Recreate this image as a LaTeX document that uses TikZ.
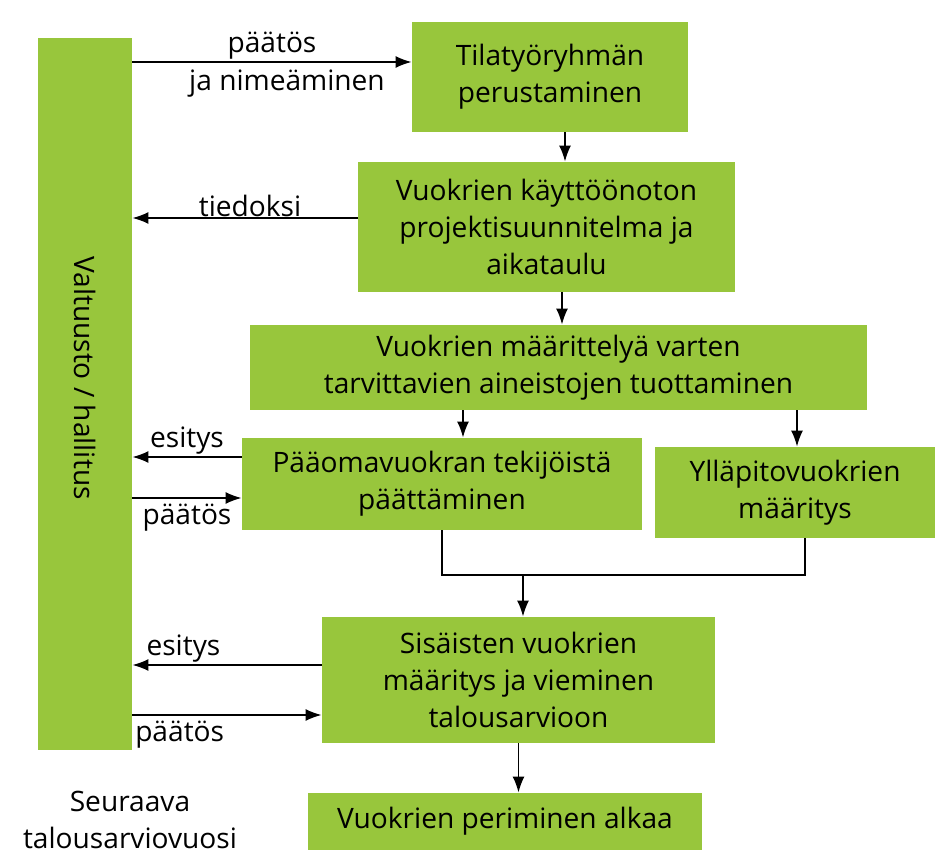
\documentclass[tikz,border=0pt]{standalone}
\usepackage{fontspec}
\setmainfont{Open Sans}
\usetikzlibrary{arrows.meta}
\definecolor{boxgreen}{RGB}{152,198,60}

\begin{document}
\begin{tikzpicture}[
  box/.style={fill=boxgreen, align=center, inner sep=0pt, font=\fontsize{16}{21}\selectfont},
  arr/.style={line width=1.1pt, -{Latex[length=3.2mm,width=2.4mm]}},
  lbl/.style={font=\fontsize{16}{19}\selectfont, inner sep=1pt}
]

% Canvas
\useasboundingbox (0,0) rectangle (18.76,-17.1);

% Boxes
\node[box, minimum width=1.88cm, minimum height=14.24cm] (bar) at (1.7,-7.88) {};
\node[box, fill=none, rotate=-90] (bartext) at (1.7,-7.56) {Valtuusto / hallitus};
\node[box, minimum width=5.52cm, minimum height=2.2cm] (tila) at (11.0,-1.54) {Tilatyöryhmän\\perustaminen};
\node[box, minimum width=7.54cm, minimum height=2.6cm] (proj) at (10.93,-4.54) {Vuokrien käyttöönoton\\projektisuunnitelma ja\\aikataulu};
\node[box, minimum width=12.34cm, minimum height=1.7cm] (maar) at (11.17,-7.35) {Vuokrien määrittelyä varten\\tarvittavien aineistojen tuottaminen};
\node[box, minimum width=8.0cm, minimum height=1.84cm] (paa) at (8.84,-9.68) {Pääomavuokran tekijöistä\\päättäminen};
\node[box, minimum width=5.6cm, minimum height=1.82cm] (yll) at (15.9,-9.85) {Ylläpitovuokrien\\määritys};
\node[box, minimum width=7.86cm, minimum height=2.52cm] (sis) at (10.37,-13.6) {Sisäisten vuokrien\\määritys ja vieminen\\talousarvioon};
\node[box, minimum width=7.88cm, minimum height=1.14cm] (per) at (10.1,-16.43) {Vuokrien periminen alkaa};
\node[box, fill=none] (seur) at (2.6,-16.4) {Seuraava\\talousarviovuosi};

% Define points
\coordinate (p1) at (0,-1.24);
\coordinate (p2) at (0,-4.36);
\coordinate (p3) at (0,-9.14);
\coordinate (p4) at (0,-9.96);
\coordinate (p5) at (0,-13.3);
\coordinate (p6) at (0,-14.3);
\coordinate (join) at (10.46,-11.5);

% Arrows to and from the bar
\draw[arr] (bar.east |- p1) -- node[lbl, above]{päätös} node[lbl, below=3pt, xshift=3mm]{ja nimeäminen} (tila.west |- p1);
\draw[arr] (proj.west |- p2) -- node[lbl, above, inner sep=0pt, xshift=1mm]{tiedoksi} (bar.east |- p2);
\draw[arr] (paa.west |- p3) -- node[lbl, above]{esitys} (bar.east |- p3);
\draw[arr] (bar.east |- p4) -- node[lbl, below=2pt]{päätös} (paa.west |- p4);
\draw[arr] (sis.west |- p5) -- node[lbl, above, pos=0.73]{esitys} (bar.east |- p5);
\draw[arr] (bar.east |- p6) -- node[lbl, below=2pt, pos=0.25]{päätös} (sis.west |- p6);

% Flow down
\draw[arr] (tila.south -| 11.3,0) -- (proj.north -| 11.3,0);
\draw[arr] (proj.south -| 11.24,0) -- (maar.north -| 11.24,0);
\draw[arr] (maar.south -| 9.26,0) -- (paa.north -| 9.26,0);
\draw[arr] (maar.south -| 15.94,0) -- (yll.north -| 15.94,0);
\draw[line width=1.1pt] (paa.south) -- (paa.south |- join) -| (yll.south -| 16.1,0);
\draw[arr] (join) -- (join |- sis.north);
\draw[arr] (sis.south) -- (per.north -| sis.south);

\end{tikzpicture}
\end{document}
